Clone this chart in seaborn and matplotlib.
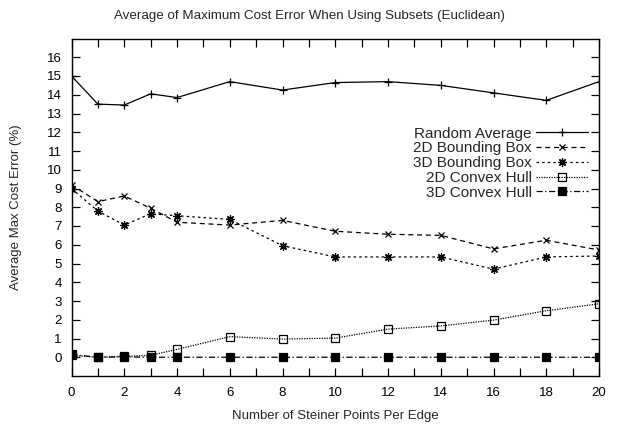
import matplotlib
matplotlib.use("Agg")
import matplotlib.pyplot as plt
import seaborn as sns
import pandas as pd

steiner_points = [0, 1, 2, 3, 4, 6, 8, 10, 12, 14, 16, 18, 20]
random_average = [15.0, 13.5, 13.45, 14.05, 13.85, 14.7, 14.25, 14.65, 14.7, 14.5, 14.1, 13.7, 14.7]
bbox_2d = [9.2, 8.3, 8.6, 7.95, 7.2, 7.05, 7.3, 6.72, 6.56, 6.5, 5.78, 6.24, 5.72]
bbox_3d = [9.0, 7.8, 7.05, 7.65, 7.55, 7.35, 5.95, 5.35, 5.35, 5.35, 4.7, 5.35, 5.4]
hull_2d = [0.1, 0.0, 0.05, 0.1, 0.42, 1.1, 0.97, 1.02, 1.5, 1.67, 1.98, 2.48, 2.85]
hull_3d = [0.15, 0.0, 0.02, 0.0, 0.0, 0.0, 0.0, 0.0, 0.0, 0.0, 0.0, 0.0, 0.0]

series_names = ["Random Average", "2D Bounding Box", "3D Bounding Box",
                "2D Convex Hull", "3D Convex Hull"]
series_values = [random_average, bbox_2d, bbox_3d, hull_2d, hull_3d]

sns.set_style("ticks")
plt.rcParams["font.family"] = ["Liberation Sans", "DejaVu Sans"]
plt.rcParams["font.size"] = 9.5

fig = plt.figure(figsize=(6.19, 4.24), dpi=100)
ax = fig.add_axes([71.5 / 619, 1 - 376 / 424, (599 - 71.5) / 619, (376 - 38.5) / 424])

styles = [
    dict(linestyle="-", marker="+", markersize=6, fillstyle="full"),
    dict(linestyle=(0, (4, 3)), marker="x", markersize=5, fillstyle="full"),
    dict(linestyle=(0, (2, 2.5)), marker=(8, 2, 0), markersize=6, fillstyle="full"),
    dict(linestyle=(0, (1, 1)), marker="s", markersize=5.5, fillstyle="none"),
    dict(linestyle=(0, (5, 2, 1, 2)), marker="s", markersize=5.5, fillstyle="full"),
]

for name, vals, st in zip(series_names, series_values, styles):
    df = pd.DataFrame({"x": steiner_points, "y": vals})
    sns.lineplot(data=df, x="x", y="y", ax=ax, color="black", linewidth=0.9,
                 label=name, markeredgecolor="black", markeredgewidth=0.9, **st)

ax.set_xlim(0, 20)
ax.set_ylim(-1, 17)
ax.set_xticks(range(0, 21, 2))
ax.set_xticks(range(0, 21, 1), minor=True)
ax.set_yticks(range(0, 17))
for side in ["top", "right", "left", "bottom"]:
    ax.spines[side].set_visible(True)
    ax.spines[side].set_linewidth(1.0)
    ax.spines[side].set_color("black")
ax.tick_params(which="both", direction="in", top=True, right=True,
               length=6, width=0.9, labelsize=9.5, pad=8, colors="black")
ax.tick_params(axis="y", pad=7)
ax.set_xlabel("Number of Steiner Points Per Edge", fontsize=9.5, labelpad=8)
ax.set_ylabel("Average Max Cost Error (%)", fontsize=9.5, labelpad=18)
fig.suptitle("Average of Maximum Cost Error When Using Subsets (Euclidean)",
             fontsize=9.6, y=1 - 16 / 424, va="center")

# with markerfirst=False the rows are right-aligned, so labels end flush
ax.legend(loc="upper right", bbox_to_anchor=(0.99, 0.757), frameon=False,
          markerfirst=False, handlelength=3.4, labelspacing=0.05,
          handletextpad=0.25, fontsize=11, borderaxespad=0)

fig.savefig("out.png", dpi=100)
